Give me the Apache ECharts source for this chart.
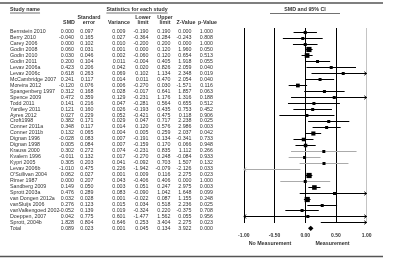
<!DOCTYPE html>
<html><head><meta charset="utf-8">
<script src="https://cdn.jsdelivr.net/npm/echarts@6/dist/echarts.min.js"></script>
<style>html,body{margin:0;padding:0;background:#fff}#c{width:405px;height:268px}</style>
</head><body><div id="c"></div>
<script>
// ---------------- data ----------------
const studies = ['Bernstein 2010','Berry 2010','Carey 2006','Godin 2008','Godin 2010','Godin 2011','Levav 2006a','Levav 2006c','McCambridge 2007','Moreira 2012','Spangenberg 1997','Spence 2009','Todd 2011','Yardley 2011','Ayres 2012','Croft1998','Conner 2011a','Conner 2011b','Dignan 1996','Dignan 1998','Krauss 2000','Kvalem 1996','Kypri 2005','Levav 2006b',"O'Sullivan 2004",'Rimer 1987','Sandberg 2009','Sprott 2003a','van Dongen 2012a','vanSluijs 2006','vanValkengoed 2002','Doeppen, 2007','Sprott, 2004b'];
const smd      = [0.000,-0.040,0.000,0.060,0.030,0.200,0.423,0.618,0.241,-0.120,0.312,0.472,0.141,0.121,0.027,0.382,0.348,0.132,-0.028,0.005,0.302,-0.011,0.305,-1.010,0.062,0.000,0.149,0.476,0.032,0.276,-0.052,0.042,1.828];
const stdErr   = [0.097,0.165,0.102,0.031,0.046,0.104,0.206,0.263,0.117,0.076,0.168,0.359,0.216,0.160,0.229,0.171,0.117,0.065,0.083,0.084,0.272,0.132,0.203,0.475,0.027,0.207,0.050,0.289,0.028,0.123,0.139,0.775,0.804];
const variance = [0.009,0.027,0.010,0.001,0.002,0.011,0.042,0.069,0.014,0.006,0.028,0.129,0.047,0.026,0.052,0.029,0.014,0.004,0.007,0.007,0.074,0.017,0.041,0.226,0.001,0.043,0.003,0.083,0.001,0.015,0.019,0.601,0.646];
const lower    = [-0.190,-0.364,-0.200,0.000,-0.060,-0.004,0.020,0.102,0.011,-0.270,-0.017,-0.231,-0.281,-0.193,-0.421,0.047,0.120,0.005,-0.191,-0.159,-0.231,-0.270,-0.092,-1.942,0.009,-0.406,0.051,-0.090,-0.022,0.034,-0.324,-1.477,0.253];
const upper    = [0.190,0.284,0.200,0.120,0.120,0.405,0.826,1.134,0.470,0.030,0.641,1.176,0.564,0.435,0.475,0.717,0.576,0.259,0.134,0.170,0.835,0.248,0.703,-0.079,0.116,0.406,0.247,1.042,0.087,0.518,0.220,1.562,3.404];
const zValue   = [0.000,-0.243,0.000,1.960,0.654,1.918,2.059,2.348,2.054,-1.571,1.857,1.316,0.655,0.753,0.118,2.238,2.986,2.037,-0.341,0.066,1.112,-0.084,1.507,-2.126,2.275,0.000,2.975,1.648,1.155,2.236,-0.375,0.055,2.275];
const pValue   = [1.000,0.808,1.000,0.050,0.513,0.055,0.040,0.019,0.040,0.116,0.063,0.188,0.512,0.452,0.906,0.025,0.003,0.042,0.733,0.948,0.266,0.933,0.132,0.033,0.023,1.000,0.003,0.099,0.248,0.025,0.708,0.956,0.023];
const totalName = 'Total';
const totalValues = [0.089,0.023,0.001,0.045,0.134,3.922,0.000]; // SMD, SE, Var, Lower, Upper, Z, p
const grayStudies = ['Krauss 2000','Kvalem 1996','Kypri 2005','Levav 2006b','Rimer 1987'];
const xTicks = [-1.00,-0.50,0.00,0.50,1.00];
const columnHeaders = [['','SMD'],['Standard','error'],['','Variance'],['Lower','limit'],['Upper','limit'],['','Z-Value'],['','p-Value']];

// ---------------- layout ----------------
const FONT = '5.3px "Liberation Sans", Arial, sans-serif';
const BFONT = 'bold 5.3px "Liberation Sans", Arial, sans-serif';
const TXT = '#333';
const GRAY = '#ababab';
const NAME_X = 10;
const COL_RIGHT = [74, 93.5, 125.5, 148.5, 170.5, 191.5, 213];
const COL_CENTER = [69, 89, 119, 143, 165, 186, 207.5];
const XMIN = -1, XMAX = 1;

const measure = (() => { const c = document.createElement('canvas').getContext('2d');
  return (t, f) => { c.font = f; return c.measureText(t).width; }; })();

function txt(text, x, y, font, align, color) {
  return {type:'text', silent:true, style:{text, x, y, font, fill: color || TXT,
    textAlign: align, textVerticalAlign:'middle', align: align, verticalAlign:'middle'}};
}

const nRows = studies.length;
const rows = [];
for (let i = 0; i <= nRows; i++) rows.push([0, i]);

function renderRow(params, api) {
  const i = params.dataIndex;
  const isTotal = i === nRows;
  const vals = isTotal ? totalValues : [smd[i], stdErr[i], variance[i], lower[i], upper[i], zValue[i], pValue[i]];
  const name = isTotal ? totalName : studies[i];
  const y = api.coord([0, i])[1];
  const children = [txt(name, NAME_X, y, FONT, 'left')];
  vals.forEach((v, k) => children.push(txt(v.toFixed(3), COL_RIGHT[k], y, FONT, 'right')));
  const color = grayStudies.includes(name) ? GRAY : '#000';
  const m = vals[0], lo = vals[3], hi = vals[4];
  const xl = api.coord([Math.max(lo, XMIN), i])[0];
  const xr = api.coord([Math.min(hi, XMAX), i])[0];
  const xm = api.coord([m, i])[0];
  if (isTotal) {
    children.push({type:'polygon', shape:{points:[[xl,y],[xm,y-2.6],[xr,y],[xm,y+2.6]]}, style:{fill:'#000'}});
  } else {
    const yy = Math.round(y) + 0.5;
    children.push({type:'line', shape:{x1:xl, y1:yy, x2:xr, y2:yy}, style:{stroke:color, lineWidth:1}});
    if (hi > XMAX) children.push({type:'polyline', shape:{points:[[xr-2.5,yy-1.8],[xr,yy],[xr-2.5,yy+1.8]]}, style:{stroke:color, fill:null, lineWidth:0.9}});
    if (lo < XMIN) children.push({type:'polyline', shape:{points:[[xl+2.5,yy-1.8],[xl,yy],[xl+2.5,yy+1.8]]}, style:{stroke:color, fill:null, lineWidth:0.9}});
    if (m >= XMIN && m <= XMAX) {
      const s = 3 + 2.2 * Math.max(0, Math.min(1, (0.1 - vals[1]) / 0.07));
      children.push({type:'rect', shape:{x:xm - s/2, y:yy - s/2, width:s, height:s}, style:{fill:'#000'}});
    }
  }
  return {type:'group', children};
}

// ---------------- header graphics ----------------
const graphics = [];
function addLine(x1, y1, x2, y2, color, w) {
  graphics.push({type:'line', silent:true, shape:{x1,y1,x2,y2}, style:{stroke:color, lineWidth:w}});
}
function addText(t, x, y, font, align, color) {
  graphics.push(txt(t, x, y, font, align, color));
}
addLine(0, 3, 383, 3, '#555', 1.5);
addLine(0, 256.5, 383, 256.5, '#555', 1.5);
addText('Study name', NAME_X, 10, BFONT, 'left');
addLine(NAME_X, 13, NAME_X + measure('Study name', BFONT), 13, TXT, 0.7);
const stTitle = 'Statistics for each study';
const stW = measure(stTitle, BFONT);
addText(stTitle, 137, 10, BFONT, 'center');
addLine(137 - stW/2, 13, 137 + stW/2, 13, TXT, 0.7);
addText('SMD and 95% CI', 305, 10, BFONT, 'center');
addLine(270, 13.5, 340, 13.5, TXT, 0.7);
columnHeaders.forEach((h, k) => {
  if (h[0]) addText(h[0], COL_CENTER[k], 17.5, BFONT, 'center');
  addText(h[1], COL_CENTER[k], 23, BFONT, 'center');
});
addText('No Measurement', 270, 244, BFONT, 'center');
addText('Measurement', 332.5, 244, BFONT, 'center');

const chart = echarts.init(document.getElementById('c'), null, {renderer:'canvas'});
chart.setOption({
  animation:false,
  backgroundColor:'#fff',
  grid:{left:243.8, width:122.9, top:28, height:195, containLabel:false},
  xAxis:{type:'value', min:XMIN, max:XMAX, interval:0.5,
    axisLine:{show:false}, axisTick:{show:false},
    axisLabel:{margin:10.5, fontSize:5, fontWeight:'bold', color:TXT, fontFamily:'"Liberation Sans", Arial, sans-serif',
      formatter: v => { const t = xTicks.find(tk => Math.abs(tk - v) < 1e-9); return t === undefined ? '' : t.toFixed(2); }},
    splitLine:{show:true, lineStyle:{color:['#000','#000','#000','#000','#c4c4c4'], width:1}}},
  yAxis:{type:'value', inverse:true, min:-0.6, max:32.1, show:false, splitLine:{show:false}},
  series:[{type:'custom', data:rows, renderItem:renderRow, clip:false, silent:true}],
  graphic: graphics
});
</script></body></html>
